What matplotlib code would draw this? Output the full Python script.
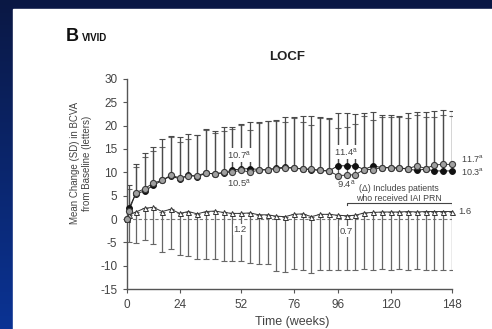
import numpy as np
import matplotlib
matplotlib.use('Agg')
import matplotlib.pyplot as plt
from matplotlib.patches import Rectangle

plt.rcParams['font.family'] = ['Liberation Sans', 'DejaVu Sans']

# data (LOCF, mean change in BCVA, letters)
weeks = [0, 1, 4, 8, 12, 16, 20, 24, 28, 32, 36, 40, 44, 48, 52, 56, 60, 64, 68, 72, 76,
         80, 84, 88, 92, 96, 100, 104, 108, 112, 116, 120, 124, 128, 132, 136, 140, 144, 148]

black_mean = [0, 2.4, 5.4, 6.0, 7.2, 8.3, 9.2, 8.6, 9.4, 9.1, 9.8, 9.7, 9.9, 10.5, 10.7, 10.8,
              10.6, 10.5, 10.9, 11.1, 10.9, 10.7, 10.6, 10.4, 10.3, 11.4, 11.4, 11.4, 10.6, 11.4,
              11.0, 11.0, 10.9, 10.7, 10.4, 10.7, 10.3, 10.3, 10.3]
black_sd = [0, 4.9, 6.3, 8.1, 8.2, 8.8, 8.5, 8.9, 8.9, 9.0, 9.4, 9.2, 9.9, 9.3, 9.6, 10.0, 10.2,
            10.6, 10.3, 10.7, 10.9, 11.4, 11.5, 11.4, 11.3, 11.4, 11.4, 11.2, 12.2, 11.6, 11.3,
            11.3, 11.2, 12.1, 12.6, 12.3, 12.9, 13.0, 12.8]

gray_mean = [0, 1.8, 5.6, 6.5, 7.7, 8.3, 9.4, 8.8, 9.2, 9.3, 9.9, 9.6, 10.0, 10.0, 10.5, 10.0,
             10.5, 10.6, 10.8, 10.9, 11.0, 10.7, 10.7, 10.4, 10.3, 9.3, 9.4, 9.5, 10.6, 10.6,
             11.0, 11.0, 10.9, 10.8, 11.4, 10.8, 11.6, 11.7, 11.7]
gray_sd = [0, 4.7, 5.6, 6.8, 6.8, 7.1, 8.1, 7.7, 8.0, 8.6, 9.1, 8.9, 8.8, 9.2, 9.6, 9.1, 10.1,
           10.3, 10.1, 9.9, 10.6, 10.1, 9.4, 11.2, 11.1, 10.1, 10.4, 10.8, 11.4, 10.6, 10.9,
           10.9, 11.0, 10.8, 10.9, 11.1, 10.3, 10.6, 10.4]

laser_mean = [0, 0.8, 1.5, 2.3, 2.5, 1.6, 2.1, 1.2, 1.6, 1.1, 1.6, 1.7, 1.4, 1.2, 1.2, 1.3, 0.9,
              0.9, 0.6, 0.5, 1.0, 1.1, 0.5, 1.0, 1.0, 0.8, 0.7, 0.8, 1.3, 1.4, 1.5, 1.5, 1.5,
              1.6, 1.5, 1.6, 1.6, 1.6, 1.6]
laser_sd = [0, 5.8, 6.7, 6.9, 7.9, 8.7, 8.6, 9.0, 9.6, 9.7, 10.2, 10.3, 10.4, 10.3, 10.3, 10.7,
            10.6, 10.6, 11.7, 11.8, 11.8, 12.0, 12.0, 11.9, 11.9, 11.7, 11.6, 11.7, 12.1, 12.3,
            12.2, 12.4, 12.3, 12.5, 12.3, 12.5, 12.5, 12.5, 12.5]

xticks = [0, 24, 52, 76, 96, 120, 148]
yticks = [-15, -10, -5, 0, 5, 10, 15, 20, 25, 30]

fig = plt.figure(figsize=(4.92, 3.29), dpi=100)

# blue slide background + white panel
bg = fig.add_axes([0, 0, 1, 1])
grad = np.linspace(0, 1, 256).reshape(-1, 1)
cmap = matplotlib.colors.LinearSegmentedColormap.from_list('bg', ['#0a1844', '#0b3394'])
bg.imshow(grad, aspect='auto', cmap=cmap, extent=[0, 1, 0, 1], origin='upper')
bg.add_patch(Rectangle((13 / 492, 0), 1, 1 - 9 / 329, color='white'))
bg.set_xlim(0, 1)
bg.set_ylim(0, 1)
bg.axis('off')

ax = fig.add_axes([127 / 492, 40 / 329, 325 / 492, 210 / 329])
ax.patch.set_alpha(0)

tc = '#444444'
ecol = '#666666'

ax.axhline(0, color='#777777', lw=0.8, ls=(0, (3, 2)), zorder=1)

z = np.zeros(len(weeks))
# laser (triangles), error bars downward
ax.errorbar(weeks, laser_mean, yerr=[laser_sd, z], fmt='-', color='#333333', lw=0.7,
            ecolor=ecol, elinewidth=0.9, capsize=2, capthick=0.8, zorder=2)
ax.plot(weeks, laser_mean, '^', ms=3.6, mfc='white', mec='#333333', mew=0.7, zorder=4,
        clip_on=False)

# circles, error bars upward
ax.errorbar(weeks, gray_mean, yerr=[z, gray_sd], fmt='-', color='#333333', lw=0.7,
            ecolor=ecol, elinewidth=0.9, capsize=2, capthick=0.8, zorder=2)
ax.errorbar(weeks, black_mean, yerr=[z, black_sd], fmt='-', color='#222222', lw=0.7,
            ecolor='#4a4a4a', elinewidth=0.9, capsize=2, capthick=0.8, zorder=2)
ax.plot(weeks, black_mean, 'o', ms=4.2, mfc='#111111', mec='#111111', mew=0.7, zorder=5,
        clip_on=False)
ax.plot(weeks, gray_mean, 'o', ms=4.4, mfc='#a0a0a0', mec='#3a3a3a', mew=0.8, zorder=6,
        clip_on=False)

ax.set_xlim(0, 148)
ax.set_ylim(-15, 30)
ax.set_xticks(xticks)
ax.set_yticks(yticks)
ax.set_xticklabels([str(t) for t in xticks])
ax.set_yticklabels([str(t) for t in yticks])
ax.tick_params(direction='out', length=3, width=0.8, color='#555555', labelsize=8.5,
               labelcolor=tc, pad=4)
for s in ['top', 'right']:
    ax.spines[s].set_visible(False)
for s in ['left', 'bottom']:
    ax.spines[s].set_color('#555555')
    ax.spines[s].set_linewidth(1.0)

box = dict(facecolor='white', edgecolor='none', pad=0.6)
fs = 6.8
ax.text(51, 13.7, '10.7$^\\mathregular{a}$', fontsize=fs, color=tc, ha='center', va='center',
        bbox=box, zorder=3)
ax.text(51, 7.7, '10.5$^\\mathregular{a}$', fontsize=fs, color=tc, ha='center', va='center',
        bbox=box, zorder=3)
ax.text(100, 14.3, '11.4$^\\mathregular{a}$', fontsize=fs, color=tc, ha='center', va='center',
        bbox=box, zorder=3)
ax.text(100, 7.4, '9.4$^\\mathregular{a}$', fontsize=fs, color=tc, ha='center', va='center',
        bbox=box, zorder=3)
ax.text(152, 13.0, '11.7$^\\mathregular{a}$', fontsize=6.5, color=tc, ha='left', va='center',
        clip_on=False)
ax.text(152, 10.1, '10.3$^\\mathregular{a}$', fontsize=6.5, color=tc, ha='left', va='center',
        clip_on=False)
ax.text(151, 1.7, '1.6', fontsize=fs, color=tc, ha='left', va='center', clip_on=False)
ax.text(51.5, -2.3, '1.2', fontsize=fs, color=tc, ha='center', va='center', bbox=box, zorder=3)
ax.text(100, -2.7, '0.7', fontsize=fs, color=tc, ha='center', va='center', bbox=box, zorder=3)

# bracket for IAI PRN
ax.plot([100, 100, 148, 148], [3.0, 3.5, 3.5, 3.0], color='#444444', lw=0.8, zorder=8)
ax.text(124, 5.5, '(\u0394) Includes patients\nwho received IAI PRN', fontsize=6.3, color=tc,
        ha='center', va='center', linespacing=1.1, bbox=box, zorder=3)

ax.text(-0.142, 0.598, 'Mean Change (SD) in BCVA\nfrom Baseline (letters)', transform=ax.transAxes,
        rotation=90, ha='center', va='center', fontsize=7, color=tc, linespacing=1.2)
fig.text(292 / 492, 1 - 322 / 329, 'Time (weeks)', ha='center', va='center', fontsize=9,
         color=tc)
fig.text(287 / 492, 1 - 57 / 329, 'LOCF', ha='center', va='center', fontsize=9.5,
         fontweight='bold', color='#222222')
fig.text(66 / 492, 1 - 41 / 329, 'B', ha='left', va='baseline', fontsize=13, fontweight='bold',
         color='#111111')
fig.text(82 / 492, 1 - 41 / 329, 'VIVID', ha='left', va='baseline', fontsize=7,
         fontweight='bold', color='#111111')

fig.savefig('out.png', dpi=100)
